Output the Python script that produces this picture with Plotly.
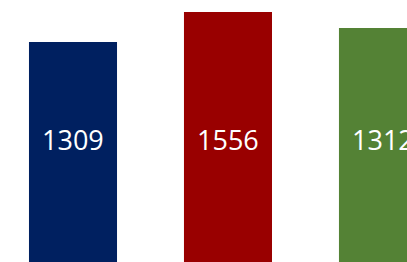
import plotly.graph_objects as go

# Data
categories = ["A", "B", "C"]
labels = ["1309", "1556", "1312"]          # value labels printed in the bars
bar_heights = [220, 250, 234]              # visible bar heights (units)
colors = ["#002060", "#990000", "#548235"]

fig = go.Figure()
fig.add_trace(go.Bar(
    x=categories,
    y=bar_heights,
    marker=dict(color=colors, line=dict(width=0)),
    width=0.568,
    hoverinfo="skip",
))

for cat, lab in zip(categories, labels):
    fig.add_annotation(
        x=cat, y=0.466, xref="x", yref="paper",
        text=lab, showarrow=False,
        font=dict(family="Open Sans", size=27, color="white"),
        xanchor="center", yanchor="middle",
    )

fig.update_layout(
    width=407, height=262,
    margin=dict(l=0, r=0, t=0, b=0),
    paper_bgcolor="white", plot_bgcolor="white",
    showlegend=False,
    xaxis=dict(range=[-0.471, 2.155], visible=False, showgrid=False),
    yaxis=dict(range=[0, 262], visible=False, showgrid=False),
)

fig.write_html(
    "out.html",
    config={"displayModeBar": False},
    post_script="document.body.style.margin='0';document.body.style.overflow='hidden';",
)
